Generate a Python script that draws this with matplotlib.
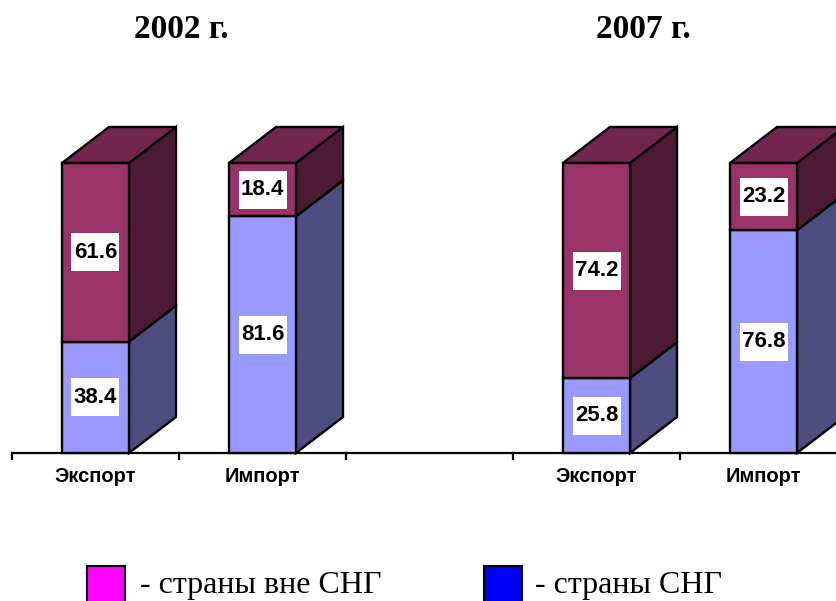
import matplotlib
matplotlib.use('Agg')
import matplotlib.pyplot as plt
from matplotlib.patches import Polygon, Rectangle

# data
years = ['2002 г.', '2007 г.']
categories = ['Экспорт', 'Импорт', '', 'Экспорт', 'Импорт']
cis = [38.4, 81.6, None, 25.8, 76.8]          # страны СНГ
non_cis = [61.6, 18.4, None, 74.2, 23.2]      # страны вне СНГ
legend_labels = ['- страны вне СНГ', '- страны СНГ']

W, H = 837, 601
fig = plt.figure(figsize=(W / 100, H / 100), dpi=100)
ax = fig.add_axes([0, 0, 1, 1])

# pixel geometry of the original -> data units
px_x = 167.0            # pixels per category slot
px_y = 2.9              # pixels per percent
x0 = -0.5 - 12 / px_x
y0 = -148 / px_y
ax.set_xlim(x0, x0 + W / px_x)
ax.set_ylim(y0, y0 + H / px_y)
ax.axis('off')

half = 33.5 / px_x      # half width of the front face
dx = 47 / px_x          # depth offset
dy = 36 / px_y

blue = dict(front='#9999ff', side='#4d4d80', top='#6666aa')
mag = dict(front='#993366', side='#4d1a33', top='#73264d')
lw = 1.7

def segment(xc, ya, yb, col, top=False):
    xl, xr = xc - half, xc + half
    ax.add_patch(Polygon([(xr, ya), (xr + dx, ya + dy), (xr + dx, yb + dy), (xr, yb)],
                         closed=True, facecolor=col['side'], edgecolor='black', lw=lw, zorder=2))
    ax.add_patch(Rectangle((xl, ya), 2 * half, yb - ya, facecolor=col['front'],
                           edgecolor='black', lw=lw, zorder=3))
    if top:
        ax.add_patch(Polygon([(xl, yb), (xr, yb), (xr + dx, yb + dy), (xl + dx, yb + dy)],
                             closed=True, facecolor=col['top'], edgecolor='black', lw=lw, zorder=2))

def value_label(xc, yc, v):
    bw, bh = 48 / px_x, 38 / px_y
    ax.add_patch(Rectangle((xc - bw / 2, yc - bh / 2), bw, bh, facecolor='white',
                           edgecolor='none', zorder=4))
    ax.text(xc, yc, f'{v:.1f}', ha='center', va='center', fontsize=16, fontweight='bold',
            family='Liberation Sans', zorder=5)

for i, (a, b) in enumerate(zip(cis, non_cis)):
    if a is None:
        continue
    segment(i, 0, a, blue)
    segment(i, a, a + b, mag, top=True)
    value_label(i, a / 2, a)
    value_label(i, a + b / 2, b)

# axis line and ticks
ax.plot([-0.5, x0 + W / px_x + 1], [0, 0], color='black', lw=1.6, zorder=1)
for t in range(len(categories) + 1):
    ax.plot([t - 0.5, t - 0.5], [0, -6 / px_y], color='black', lw=1.6, zorder=1)

for i, c in enumerate(categories):
    if c:
        ax.text(i, -24 / px_y, c, ha='center', va='center', fontsize=14.5, fontweight='bold',
                family='Liberation Sans')

# year titles
title_y = (H - 30 - 148) / px_y
ax.text((181 - 12) / px_x - 0.5, title_y, years[0], ha='center', va='center',
        fontsize=24, fontweight='bold', family='Liberation Serif')
ax.text((643.5 - 12) / px_x - 0.5, title_y, years[1], ha='center', va='center',
        fontsize=24, fontweight='bold', family='Liberation Serif')

# legend
def px2data(x, y):
    return x0 + x / px_x, y0 + (H - y) / px_y

for (lx, tx), col, lab in zip([(87, 140), (484, 535)], ['#ff00ff', '#0000ff'], legend_labels):
    bx, by = px2data(lx, 604)
    ax.add_patch(Rectangle((bx, by), 38 / px_x, 38 / px_y, facecolor=col,
                           edgecolor='black', lw=1.5, zorder=3))
    tx_, ty_ = px2data(tx, 586)
    ax.text(tx_, ty_, lab, ha='left', va='center', fontsize=23, family='Liberation Serif')

fig.savefig('out.png', dpi=100)
